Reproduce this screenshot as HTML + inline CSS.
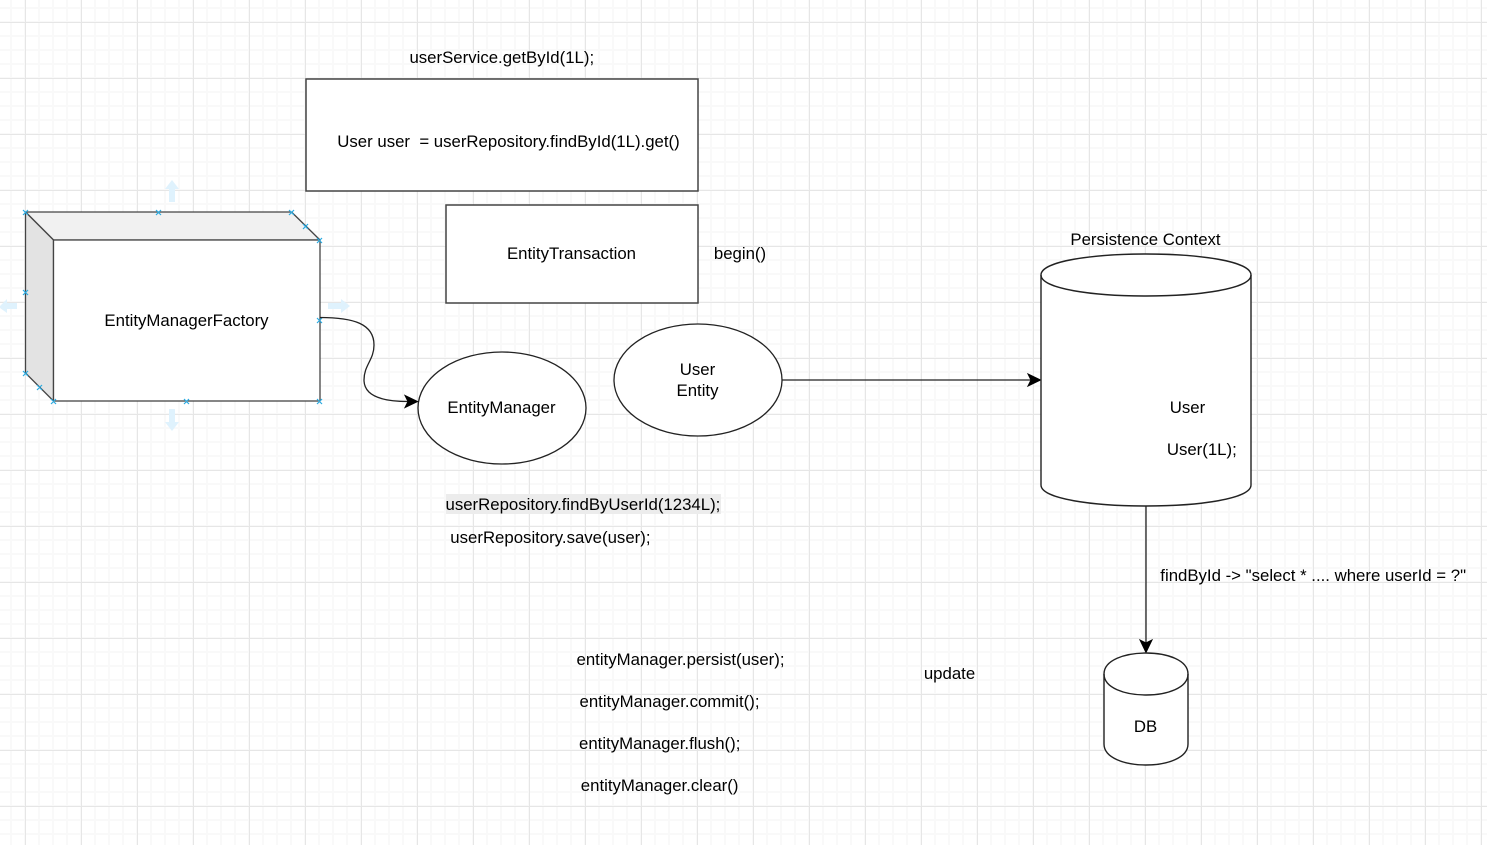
<!DOCTYPE html>
<html><head><meta charset="utf-8"><style>
html,body{margin:0;padding:0;background:#fff}
svg{display:block}
text{font-family:"Liberation Sans",Arial,sans-serif;font-size:16.8px;fill:#000;text-anchor:middle;white-space:pre}
.s{text-anchor:start}
</style></head><body>
<svg width="1487" height="845" viewBox="0 0 1487 845" xmlns="http://www.w3.org/2000/svg">
<defs>
<pattern id="gm" x="10" y="7" width="14" height="14" patternUnits="userSpaceOnUse"><path d="M0 1H14M1 0V14" fill="none" stroke="#f9f9f9" stroke-width="2"/></pattern>
<pattern id="gM" x="25" y="22" width="56" height="56" patternUnits="userSpaceOnUse"><path d="M0 0.500H56M0.500 0V56" fill="none" stroke="#e6e6e6" stroke-width="1"/></pattern>
</defs>
<rect width="1487" height="845" fill="#fff"/>
<rect width="1487" height="845" fill="url(#gm)"/>
<rect width="1487" height="845" fill="url(#gM)"/>

<!-- hover arrows -->
<g fill="#dff2fd">
<path d="M172 180l7 9h-4v13h-6v-13h-4z"/>
<path d="M172 431l7-9h-4v-13h-6v13h-4z"/>
<path d="M350 306l-9-7v4h-13v6h13v4z"/>
<path d="M0 306l7-7v4h10v6h-10v4l-7-5z"/>
</g>

<!-- cube -->
<path d="M25.500 212H291.500L320 240H53.500Z" fill="#f1f1f1" stroke="#444" stroke-width="1.300" stroke-linejoin="round"/>
<path d="M25.500 212L53.500 240V401L25.500 373Z" fill="#e3e3e3" stroke="#444" stroke-width="1.300" stroke-linejoin="round"/>
<rect x="53.500" y="240" width="266.500" height="161" fill="#fff" stroke="#444" stroke-width="1.300"/>
<g stroke="#29aae1" stroke-width="1.200" fill="none">
<path d="M23 210l5 5m0-5l-5 5M156 210l5 5m0-5l-5 5M289 210l5 5m0-5l-5 5M303 224l5 5m0-5l-5 5M317 238l5 5m0-5l-5 5M23 290l5 5m0-5l-5 5M23 371l5 5m0-5l-5 5M37 385l5 5m0-5l-5 5M51 399l5 5m0-5l-5 5M184 399l5 5m0-5l-5 5M317 399l5 5m0-5l-5 5M317 318l5 5m0-5l-5 5"/>
</g>
<text x="186.500" y="326">EntityManagerFactory</text>

<!-- boxes -->
<rect x="306" y="79" width="392" height="112" fill="#fff" stroke="#444" stroke-width="1.500"/>
<rect x="446" y="205" width="252" height="98" fill="#fff" stroke="#444" stroke-width="1.500"/>
<text x="501.800" y="63">userService.getById(1L);</text>
<text x="508.500" y="147" xml:space="preserve">User user  = userRepository.findById(1L).get()</text>
<text x="571.500" y="259">EntityTransaction</text>
<text x="740" y="259">begin()</text>

<!-- ellipses -->
<ellipse cx="502" cy="408" rx="84" ry="56" fill="#fff" stroke="#222" stroke-width="1.300"/>
<text x="501.500" y="413">EntityManager</text>
<ellipse cx="698" cy="380" rx="84" ry="56" fill="#fff" stroke="#222" stroke-width="1.300"/>
<text x="697.500" y="375">User</text>
<text x="697.500" y="396">Entity</text>

<!-- curved connector -->
<path d="M320 317.500C354 317.500 374 324 374 345C374 360 364 365 364 380C364 395 380 401.500 408 401.500" fill="none" stroke="#222" stroke-width="1.300"/>
<path d="M417.500 401.500L405 407.500L408 401.500L405 395.500Z" fill="#000" stroke="#000"/>

<!-- user entity to PC -->
<path d="M782 380H1031" fill="none" stroke="#222" stroke-width="1.300"/>
<path d="M1040.500 380L1028 386L1031 380L1028 374Z" fill="#000" stroke="#000"/>

<!-- PC cylinder -->
<path d="M1041 275C1041 247 1251 247 1251 275V485C1251 513 1041 513 1041 485Z" fill="#fff" stroke="#222" stroke-width="1.400"/>
<path d="M1041 275C1041 303 1251 303 1251 275" fill="none" stroke="#222" stroke-width="1.400"/>
<text x="1145.500" y="245">Persistence Context</text>
<text x="1187.500" y="413">User</text>
<text x="1201.800" y="455">User(1L);</text>

<!-- PC to DB -->
<path d="M1146 506V643" fill="none" stroke="#222" stroke-width="1.300"/>
<path d="M1146 652.500L1140 640L1146 643L1152 640Z" fill="#000" stroke="#000"/>

<!-- DB -->
<path d="M1104 674C1104 646 1188 646 1188 674V744C1188 772 1104 772 1104 744Z" fill="#fff" stroke="#222" stroke-width="1.400"/>
<path d="M1104 674C1104 702 1188 702 1188 674" fill="none" stroke="#222" stroke-width="1.400"/>
<text x="1145.500" y="732">DB</text>

<!-- labels -->
<rect x="446" y="494" width="275" height="20" fill="#ececec"/>
<text class="s" x="445.500" y="510">userRepository.findByUserId(1234L);</text>
<text class="s" x="450.300" y="543">userRepository.save(user);</text>
<text class="s" x="1160.300" y="581">findById -&gt; "select * .... where userId = ?"</text>
<text class="s" x="576.500" y="665">entityManager.persist(user);</text>
<text class="s" x="579.500" y="707">entityManager.commit();</text>
<text class="s" x="579" y="749">entityManager.flush();</text>
<text class="s" x="580.800" y="791">entityManager.clear()</text>
<text x="949.500" y="679">update</text>
</svg>
</body></html>
